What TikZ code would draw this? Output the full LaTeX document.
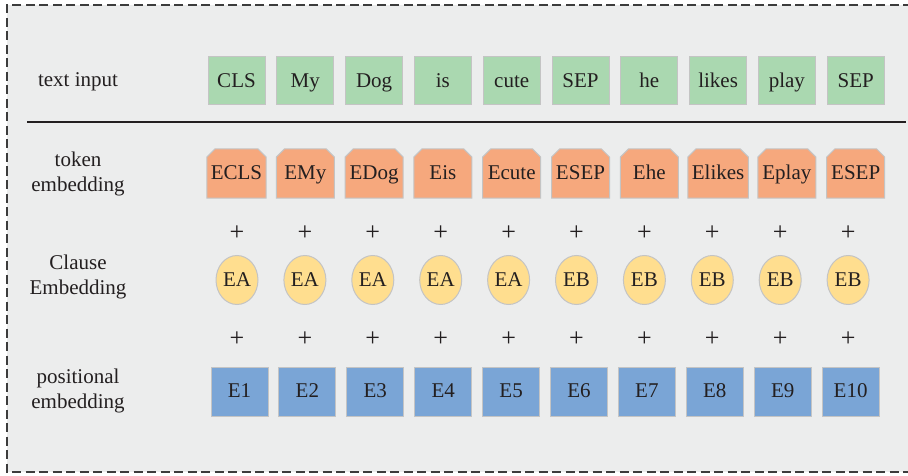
\documentclass[tikz,border=0pt]{standalone}
\usepackage{fontspec}
\setmainfont{Liberation Serif}
\usetikzlibrary{shapes.misc,shapes.geometric}
\definecolor{panel}{RGB}{236,237,237}
\definecolor{inkdark}{RGB}{35,31,32}
\definecolor{edgegray}{RGB}{196,196,196}
\definecolor{tokgreen}{RGB}{170,216,176}
\definecolor{tokorange}{RGB}{246,168,125}
\definecolor{segyellow}{RGB}{255,222,143}
\definecolor{posblue}{RGB}{122,165,214}
\definecolor{framegray}{RGB}{60,60,60}
\tikzset{
  every node/.style={text=inkdark, font=\fontsize{21}{25}\selectfont, inner sep=0pt},
  cell/.style={text height=17pt, text depth=4.4pt, line width=1pt, draw=edgegray},
  inputbox/.style={cell, rectangle, fill=tokgreen,
    minimum width=57pt, minimum height=48pt},
  tokenbox/.style={cell, chamfered rectangle, chamfered rectangle corners={north west,north east},
    chamfered rectangle xsep=4pt, chamfered rectangle ysep=4pt,
    fill=tokorange, minimum width=58pt, minimum height=49pt},
  segdisc/.style={cell, ellipse, fill=segyellow,
    minimum width=42pt, minimum height=49pt},
  posbox/.style={cell, rectangle, fill=posblue,
    minimum width=57pt, minimum height=49pt},
  rowlabel/.style={align=center},
  plussign/.style={font=\fontsize{26}{26}\selectfont},
}
\begin{document}
\begin{tikzpicture}[x=1pt,y=-1pt]
  \useasboundingbox (0,0) rectangle (908,476);
  % panel and dashed frame
  \fill[panel] (7,5) rectangle (912,472);
  \draw[framegray, line width=1.3pt, dash pattern=on 9pt off 4.5pt] (912,5) -- (7,5) -- (7,472) -- (912,472);
  % row labels
  \node[rowlabel] (lblinput) at (78,82) {text input};
  \node[rowlabel] (lbltoken) at (78,174) {token\\embedding};
  \node[rowlabel] (lblclause) at (78,277) {Clause\\Embedding};
  \node[rowlabel] (lblpos) at (78,391) {positional\\embedding};
  % separator under the input row
  \coordinate (ruleL) at (27,122);
  \coordinate (ruleR) at (906,122);
  \draw[inkdark, line width=2pt] (ruleL) -- (ruleR);
  % input tokens and token embeddings
  \foreach \w [count=\i from 0] in {CLS,My,Dog,is,cute,SEP,he,likes,play,SEP} {
    \node[inputbox] (in\i) at ({236.5+68.8*\i},81) {\w};
    \node[tokenbox] (tk\i) at ({236.5+68.8*\i},173.5) {E\w};
  }
  % clause embeddings with plus signs
  \foreach \s [count=\i from 0] in {EA,EA,EA,EA,EA,EB,EB,EB,EB,EB} {
    \node[plussign] (pa\i) at ({237+67.9*\i},233) {+};
    \node[segdisc] (cl\i) at ({237+67.9*\i},280) {\s};
    \node[plussign] (pb\i) at ({237+67.9*\i},339) {+};
  }
  % positional embeddings
  \foreach \i in {1,...,10} {
    \node[posbox] (ps\i) at ({239.5+67.9*(\i-1)},391.5) {E\i};
  }
\end{tikzpicture}
\end{document}
